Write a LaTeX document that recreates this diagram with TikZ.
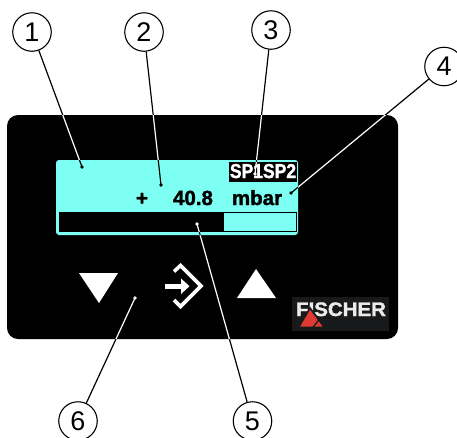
\documentclass[tikz,border=0pt]{standalone}
\usepackage{fontspec}
\setmainfont{Liberation Sans}
\newfontfamily\heavyfont[FakeBold=1.6]{Liberation Sans Bold}
\definecolor{dispcyan}{HTML}{7DFFF4}
\definecolor{logobg}{HTML}{18191B}
\definecolor{logored}{HTML}{DC3A33}
\tikzset{
  callout/.style={circle,draw=black,fill=white,line width=1.1pt,minimum size=38.5pt,inner sep=0pt,font=\fontsize{27}{27}\selectfont},
  readout/.style={anchor=base,inner sep=0pt,font=\fontsize{20.5}{20.5}\selectfont\heavyfont},
  setpoint/.style={anchor=base,inner sep=0pt,text=white,font=\fontsize{17.5}{17.5}\selectfont\heavyfont},
  leaderline/.style={line width=1.2pt}
}
\newcommand{\allleaders}[1]{%
  \foreach \n in {1,...,6}{%
    \draw[leaderline,#1] (c\n) -- (d\n);
    \fill[#1] (d\n) circle (1.9pt);
  }%
}
\begin{document}
\begin{tikzpicture}[x=1pt,y=-1pt]
\useasboundingbox (0,0) rectangle (457,437);
\clip (0,0) rectangle (457,437);
\fill[white] (0,0) rectangle (457,437);
\coordinate (d1) at (82,167);
\coordinate (d2) at (161,185);
\coordinate (d3) at (255,174);
\coordinate (d4) at (291,193);
\coordinate (d5) at (197,224);
\coordinate (d6) at (135,298);
\node[callout] (c1) at (32,32) {1};
\node[callout] (c2) at (144,32) {2};
\node[callout] (c3) at (271,30) {3};
\node[callout] (c4) at (444,66.5) {4};
\node[callout] (c5) at (252.5,421) {5};
\node[callout] (c6) at (78,421) {6};
% panel
\fill[black,rounded corners=11pt] (7,115) rectangle (398,339);
\allleaders{black}
\begin{scope}
  \clip[rounded corners=11pt] (7,115) rectangle (398,339);
  \allleaders{white}
\end{scope}
% display
\fill[dispcyan,rounded corners=3pt] (56,160) rectangle (298,235);
\begin{scope}
  \clip[rounded corners=3pt] (56,160) rectangle (298,235);
  \allleaders{black}
\end{scope}
% setpoint box
\fill[black] (229,162) rectangle (297,182);
\node[setpoint] (sp) at (263,178) {\scalebox{1}[1.15]{SP1SP2}};
\begin{scope}
  \clip (229,162) rectangle (297,182);
  \allleaders{white}
\end{scope}
% readout
\node[readout] (plus) at (142,205) {+};
\node[readout] (value) at (193,205) {40.8};
\node[readout] (unit) at (257,205) {mbar};
% bar
\draw[black,line width=1pt] (59.5,212.5) rectangle (296.5,231.5);
\fill[black] (59.5,212.5) rectangle (224,231.5);
\begin{scope}
  \clip (59.5,212.5) rectangle (224,231.5);
  \allleaders{white}
\end{scope}
% buttons
\fill[white] (79,273) -- (118,273) -- (99,303) -- cycle;
\fill[white] (237,298) -- (276,298) -- (256,269) -- cycle;
\draw[white,line width=3.6pt,miter limit=10] (174,271.5) -- (180.5,265.5) -- (201,286) -- (180.5,306.5) -- (174,300);
\fill[white] (165,283.5) rectangle (183,289);
\fill[white] (181,278.5) -- (189.5,286.2) -- (181,294) -- cycle;
% logo
\fill[logobg] (292,297) rectangle (389,331);
\node[inner sep=0pt,anchor=base,text=white!92!black,font=\fontsize{19.5}{19.5}\selectfont\heavyfont] (logo) at (341,316) {\scalebox{1.05}[1]{FISCHER}};
\draw[logobg,line width=1.6pt,fill=logored,line join=miter] (310,308) -- (324.5,327.5) -- (298.5,327.5) -- cycle;
\draw[logobg,line width=1.3pt] (321,317) -- (312.5,328);
\end{tikzpicture}
\end{document}
